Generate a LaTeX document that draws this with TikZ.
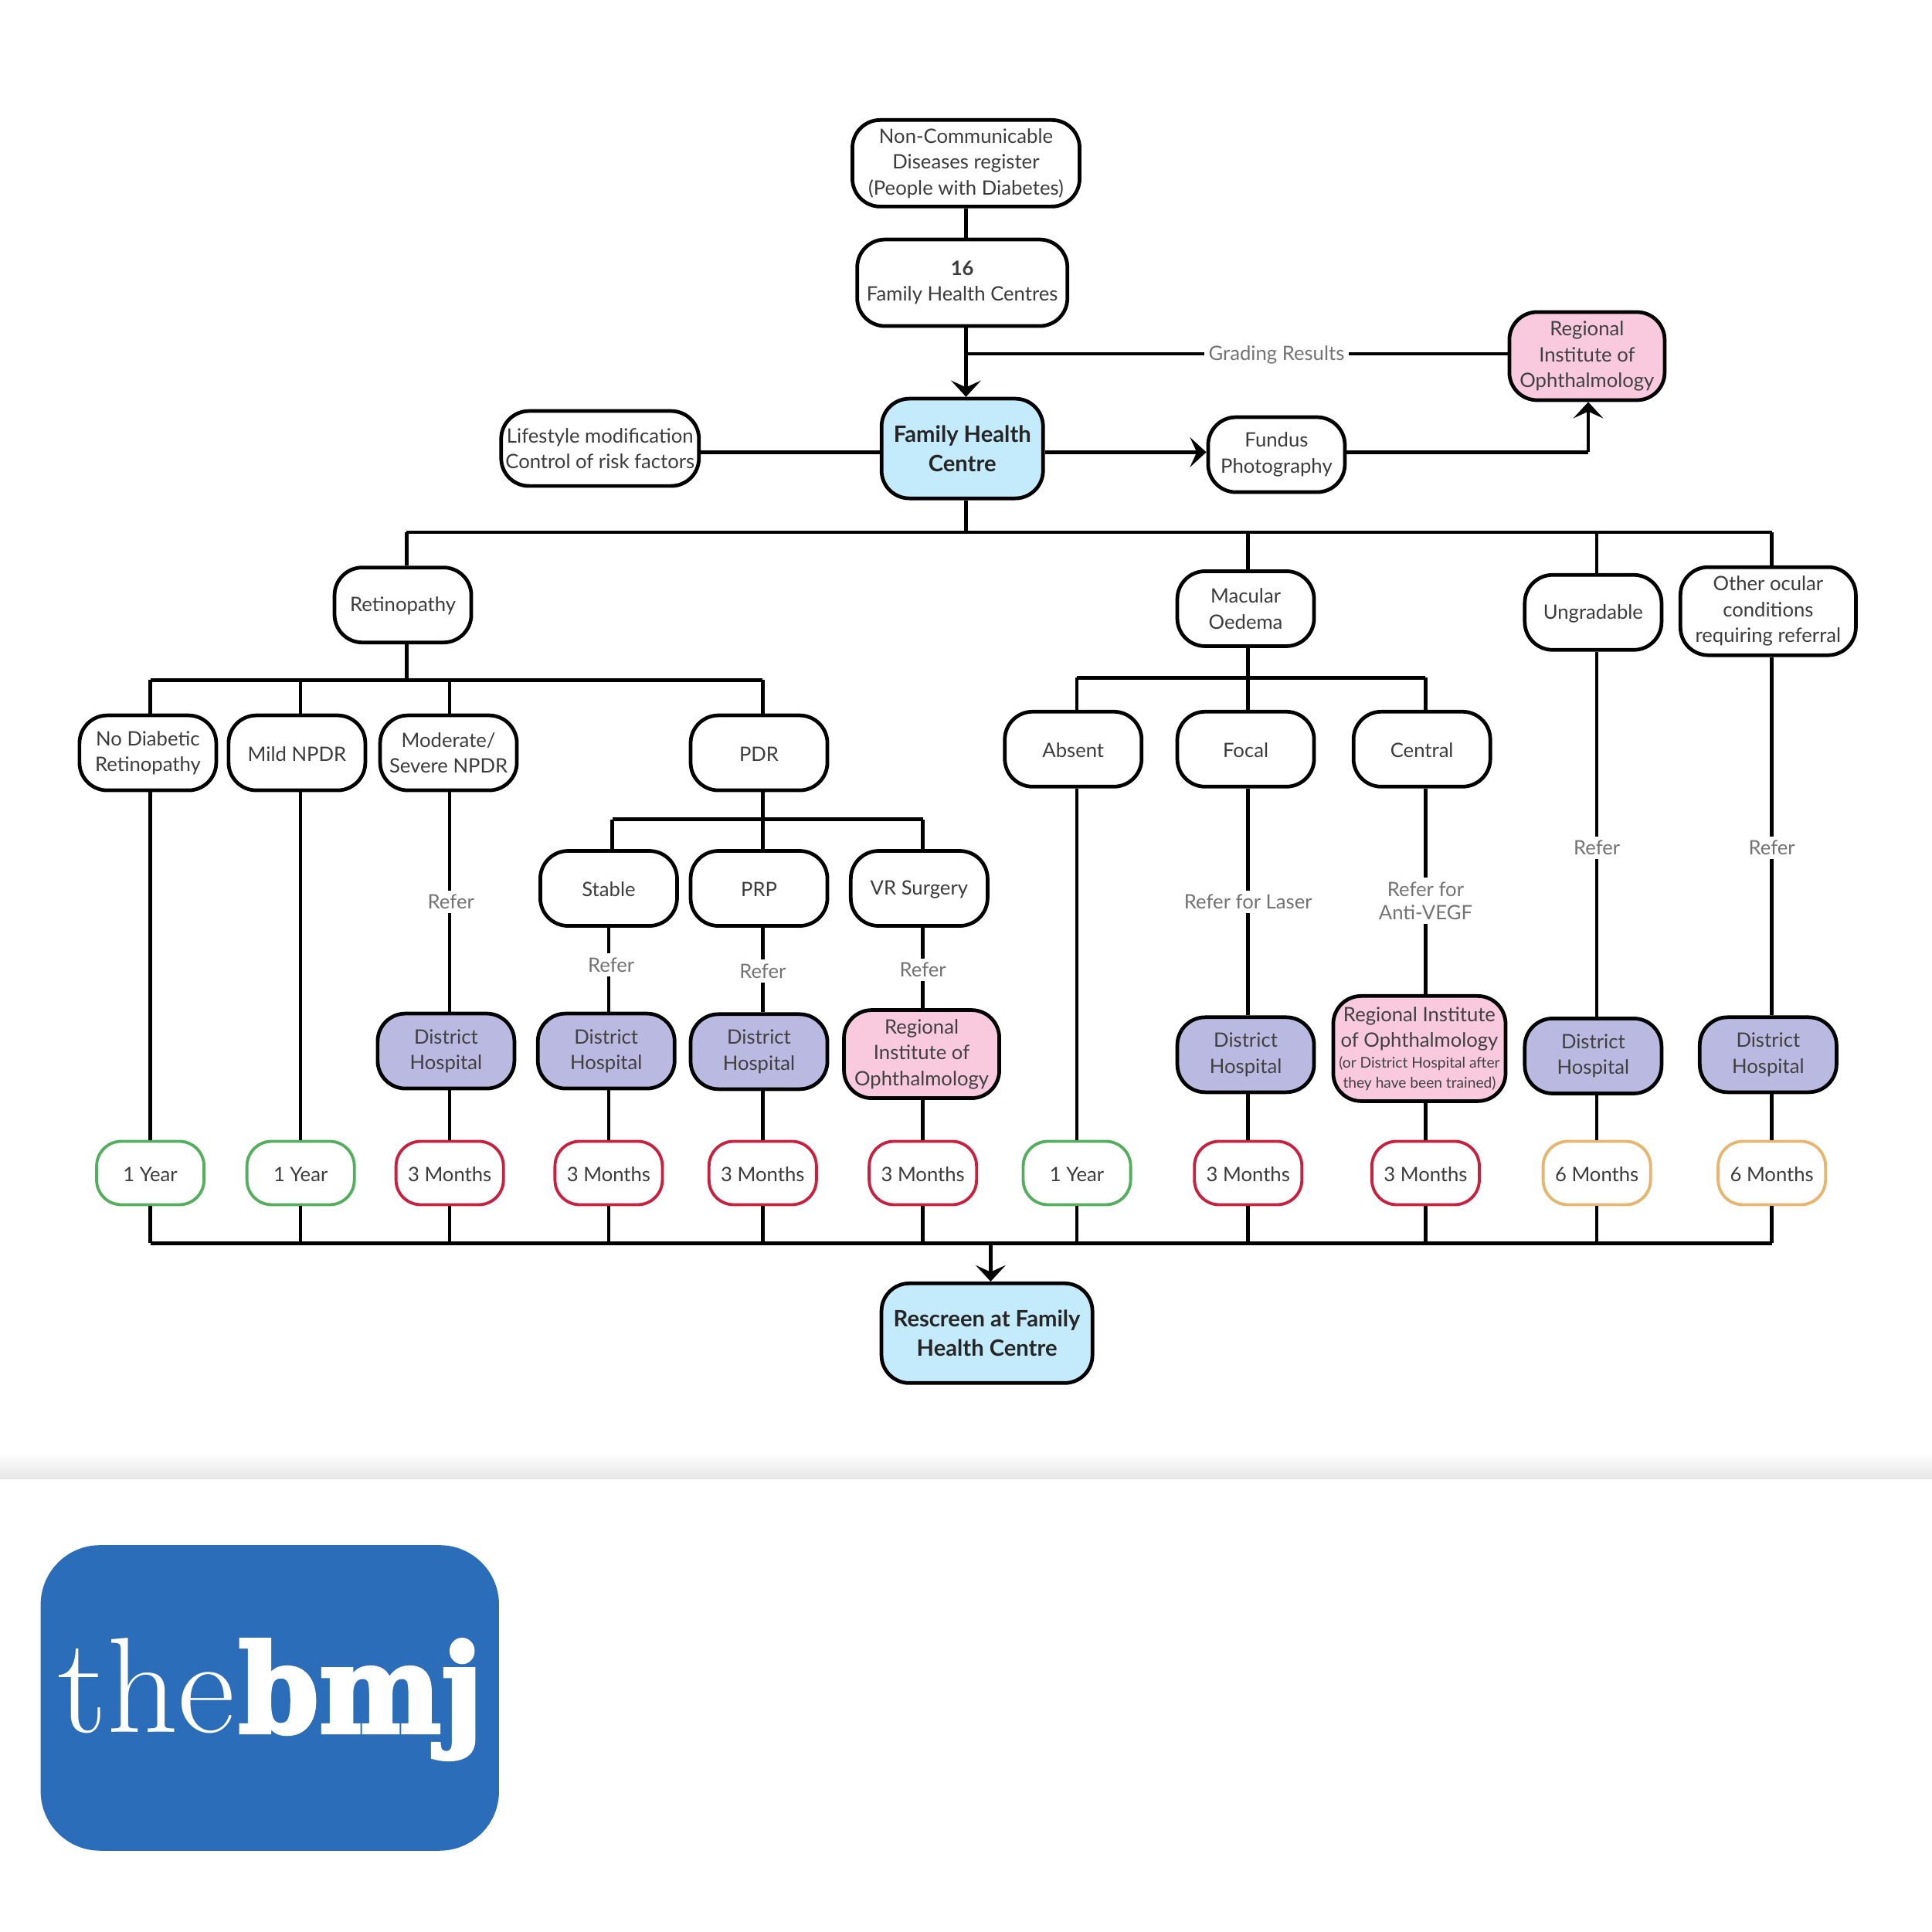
\documentclass[tikz,border=0pt]{standalone}
\usepackage{fontspec}
\setmainfont{Lato}
\newfontfamily\logoheavy{DejaVu Serif Bold}[FakeBold=3]
\newfontfamily\logothin{Latin Modern Roman}
\usetikzlibrary{arrows.meta}

\definecolor{bluefill}{HTML}{C4EBFC}
\definecolor{pinkfill}{HTML}{F9C9DD}
\definecolor{purplefill}{HTML}{B9B9E2}
\definecolor{yeargreen}{HTML}{55AE5E}
\definecolor{monthred}{HTML}{C8213F}
\definecolor{halforange}{HTML}{E6B670}
\definecolor{logoblue}{HTML}{2C6DB9}
\definecolor{textgrey}{HTML}{3C3C3C}

\tikzset{
    box/.style={rectangle, rounded corners=0.36cm, draw=black, line width=1.35pt, fill=white, align=center,
        text=textgrey, inner sep=0pt, minimum width=1.77cm, minimum height=0.97cm,
        execute at begin node={\rule{0pt}{6.2pt}},
        font=\fontsize{7.3}{9.5}\selectfont},
    mainbox/.style={box, fill=bluefill, text=black!85, font=\fontsize{8.3}{10.9}\selectfont\bfseries},
    districtbox/.style={box, fill=purplefill, text=black!75},
    instbox/.style={box, fill=pinkfill, text=black!75, minimum width=2.01cm, minimum height=1.14cm},
    timebox/.style={box, line width=1.1pt, minimum width=1.39cm, minimum height=0.82cm, rounded corners=0.32cm},
    referlabel/.style={fill=white, text=black!55, align=center, inner sep=1.5pt,
        font=\fontsize{7.3}{8.6}\selectfont},
    link/.style={line width=1.3pt, black},
    arrowlink/.style={link, -{Stealth[length=6pt, width=11pt, inset=2.5pt]}}
}

\begin{document}
\begin{tikzpicture}[x=0.01595cm, y=-0.01595cm]
            \useasboundingbox (0,0) rectangle (1568,1567.4);

            %nodes
            \node[box, minimum width=2.94cm, minimum height=1.12cm] (register) at (784,132.5) {Non-Communicable\\Diseases register\\(People with Diabetes)};
            \node[box, minimum width=2.72cm, minimum height=1.12cm] (centres) at (781,229.5) {\textbf{16}\\Family Health Centres};
            \node[mainbox, minimum width=2.09cm, minimum height=1.29cm] (family) at (781,364) {Family Health\\Centre};
            \node[box, minimum width=2.56cm] (lifestyle) at (487,364) {Lifestyle modification\\Control of risk factors};
            \node[box] (fundus) at (1036,369) {Fundus\\Photography};
            \node[instbox] (instituteA) at (1288,289) {Regional\\Institute of\\Ophthalmology};

            \node[box] (retino) at (327,491) {Retinopathy};
            \node[box] (macular) at (1011,494) {Macular\\Oedema};
            \node[box] (ungrad) at (1293,497) {Ungradable};
            \node[box, minimum width=2.27cm, minimum height=1.14cm] (other) at (1435,496) {Other ocular\\conditions\\requiring referral};

            \node[box] (nodr) at (120,611) {No Diabetic\\Retinopathy};
            \node[box] (mild) at (241,611) {Mild NPDR};
            \node[box] (moderate) at (364,611) {Moderate/\\Severe NPDR};
            \node[box] (pdr) at (616,611) {PDR};
            \node[box] (absent) at (871,608) {Absent};
            \node[box] (focal) at (1011,608) {Focal};
            \node[box] (central) at (1154,608) {Central};

            \node[box] (stable) at (494,721) {Stable};
            \node[box] (prp) at (616,721) {PRP};
            \node[box] (surgery) at (746,721) {VR Surgery};

            \node[districtbox] (districtA) at (362,853) {District\\Hospital};
            \node[districtbox] (districtB) at (492,853) {District\\Hospital};
            \node[districtbox] (districtC) at (616,853.5) {District\\Hospital};
            \node[instbox] (instituteB) at (748,855.5) {Regional\\Institute of\\Ophthalmology};
            \node[districtbox] (districtD) at (1011,856) {District\\Hospital};
            \node[instbox, minimum width=2.23cm, minimum height=1.36cm] (instituteC) at (1152,851) {Regional Institute\\of Ophthalmology\\[-1.9pt]\fontsize{5.45}{7.4}\selectfont (or District Hospital after\\[-2.2pt]\fontsize{5.45}{7.4}\selectfont they have been trained)};
            \node[districtbox] (districtE) at (1293,857) {District\\Hospital};
            \node[districtbox] (districtF) at (1435,856) {District\\Hospital};

            \node[timebox, draw=yeargreen] (timeA) at (122,952) {1 Year};
            \node[timebox, draw=yeargreen] (timeB) at (244,952) {1 Year};
            \node[timebox, draw=monthred] (timeC) at (365,952) {3 Months};
            \node[timebox, draw=monthred] (timeD) at (494,952) {3 Months};
            \node[timebox, draw=monthred] (timeE) at (619,952) {3 Months};
            \node[timebox, draw=monthred] (timeF) at (749,952) {3 Months};
            \node[timebox, draw=yeargreen] (timeG) at (874,952) {1 Year};
            \node[timebox, draw=monthred] (timeH) at (1013,952) {3 Months};
            \node[timebox, draw=monthred] (timeI) at (1157,952) {3 Months};
            \node[timebox, draw=halforange] (timeJ) at (1296,952) {6 Months};
            \node[timebox, draw=halforange] (timeK) at (1438,952) {6 Months};

            \node[mainbox, minimum width=2.73cm, minimum height=1.29cm] (rescreen) at (801,1082) {Rescreen at Family\\Health Centre};

            %junctions
            \coordinate (topbus) at (784,432);
            \coordinate (retbus) at (330,552);
            \coordinate (macbus) at (1013,550);
            \coordinate (pdrbus) at (619,665);
            \coordinate (stablebus) at (497,665);
            \coordinate (feedback) at (784,287);
            \coordinate (corner) at (1289,367);
            \coordinate (rescreenbus) at (804,1009);
            \coordinate (colA) at (122,1009);
            \coordinate (colB) at (244,1009);
            \coordinate (colC) at (365,1009);
            \coordinate (colD) at (494,1009);
            \coordinate (colE) at (619,1009);
            \coordinate (colF) at (749,1009);
            \coordinate (colG) at (874,1009);
            \coordinate (colH) at (1013,1009);
            \coordinate (colI) at (1157,1009);
            \coordinate (colJ) at (1296,1009);
            \coordinate (colK) at (1438,1009);
            \coordinate (colRet) at (330,1009);

            %edges
            \draw[link] (register.south) -- (register.south |- centres.north);
            \draw[arrowlink] (register.south |- centres.south) -- (register.south |- family.north);
            \draw[link] (instituteA.west |- feedback) -- (feedback);
            \draw[link] (lifestyle.east |- corner) -- (family.west |- corner);
            \draw[arrowlink] (family.east |- corner) -- (fundus.west |- corner);
            \draw[link] (fundus.east |- corner) -- (corner);
            \draw[arrowlink] (corner) -- (corner |- instituteA.south);

            \draw[link] (topbus |- family.south) -- (topbus);
            \draw[link] (colRet |- topbus) -- (colK |- topbus);
            \draw[link] (colRet |- topbus) -- (colRet |- retino.north);
            \draw[link] (colH |- topbus) -- (colH |- macular.north);
            \draw[link] (colJ |- topbus) -- (colJ |- ungrad.north);
            \draw[link] (colK |- topbus) -- (colK |- other.north);

            \draw[link] (colRet |- retino.south) -- (retbus);
            \draw[link] (colA |- retbus) -- (colE |- retbus);
            \draw[link] (colA |- retbus) -- (colA |- nodr.north);
            \draw[link] (colB |- retbus) -- (colB |- mild.north);
            \draw[link] (colC |- retbus) -- (colC |- moderate.north);
            \draw[link] (colE |- retbus) -- (colE |- pdr.north);

            \draw[link] (macbus |- macular.south) -- (macbus);
            \draw[link] (colG |- macbus) -- (colI |- macbus);
            \draw[link] (colG |- macbus) -- (colG |- absent.north);
            \draw[link] (macbus) -- (macbus |- focal.north);
            \draw[link] (colI |- macbus) -- (colI |- central.north);

            \draw[link] (pdrbus |- pdr.south) -- (pdrbus);
            \draw[link] (stablebus) -- (colF |- pdrbus);
            \draw[link] (stablebus) -- (stablebus |- stable.north);
            \draw[link] (pdrbus) -- (pdrbus |- prp.north);
            \draw[link] (colF |- pdrbus) -- (colF |- surgery.north);

            \draw[link] (colA |- nodr.south) -- (colA |- timeA.north);
            \draw[link] (colB |- mild.south) -- (colB |- timeB.north);
            \draw[link] (colC |- moderate.south) -- (colC |- districtA.north);
            \draw[link] (colD |- stable.south) -- (colD |- districtB.north);
            \draw[link] (colE |- prp.south) -- (colE |- districtC.north);
            \draw[link] (colF |- surgery.south) -- (colF |- instituteB.north);
            \draw[link] (colG |- absent.south) -- (colG |- timeG.north);
            \draw[link] (colH |- focal.south) -- (colH |- districtD.north);
            \draw[link] (colI |- central.south) -- (colI |- instituteC.north);
            \draw[link] (colJ |- ungrad.south) -- (colJ |- districtE.north);
            \draw[link] (colK |- other.south) -- (colK |- districtF.north);

            \draw[link] (colC |- districtA.south) -- (colC |- timeC.north);
            \draw[link] (colD |- districtB.south) -- (colD |- timeD.north);
            \draw[link] (colE |- districtC.south) -- (colE |- timeE.north);
            \draw[link] (colF |- instituteB.south) -- (colF |- timeF.north);
            \draw[link] (colH |- districtD.south) -- (colH |- timeH.north);
            \draw[link] (colI |- instituteC.south) -- (colI |- timeI.north);
            \draw[link] (colJ |- districtE.south) -- (colJ |- timeJ.north);
            \draw[link] (colK |- districtF.south) -- (colK |- timeK.north);

            \draw[link] (colA) -- (timeA.south);
            \draw[link] (colB) -- (timeB.south);
            \draw[link] (colC) -- (timeC.south);
            \draw[link] (colD) -- (timeD.south);
            \draw[link] (colE) -- (timeE.south);
            \draw[link] (colF) -- (timeF.south);
            \draw[link] (colG) -- (timeG.south);
            \draw[link] (colH) -- (timeH.south);
            \draw[link] (colI) -- (timeI.south);
            \draw[link] (colJ) -- (timeJ.south);
            \draw[link] (colK) -- (timeK.south);
            \draw[link] (colA) -- (colK);
            \draw[arrowlink] (rescreenbus) -- (rescreenbus |- rescreen.north);

            %labels
            \node[referlabel] (grading) at (1036,288) {Grading Results};
            \node[referlabel] (referC) at (366,732) {Refer};
            \node[referlabel] (referD) at (496,783) {Refer};
            \node[referlabel] (referE) at (619,788) {Refer};
            \node[referlabel] (referF) at (749,787) {Refer};
            \node[referlabel] (referH) at (1013,732) {Refer for Laser};
            \node[referlabel] (referI) at (1157,731) {Refer for\\Anti-VEGF};
            \node[referlabel] (referJ) at (1296,688) {Refer};
            \node[referlabel] (referK) at (1438,688) {Refer};

            %footer
            \shade[top color=white, bottom color=black!10] (0,1179) rectangle (1568,1200);
            \fill[logoblue, rounded corners=0.77cm] (33,1254) rectangle (405,1502);
            \node[anchor=base west, inner sep=0pt, text=white, font=\logothin\fontsize{50}{50}\selectfont] (logothe) at (46,1406) {\scalebox{1.03}[1]{the}};
            \node[anchor=base west, inner sep=0pt, text=white, font=\logoheavy\fontsize{45}{45}\selectfont] (logobmj) at (193,1406) {\scalebox{0.945}[1]{bmj}};
        \end{tikzpicture}
\end{document}
